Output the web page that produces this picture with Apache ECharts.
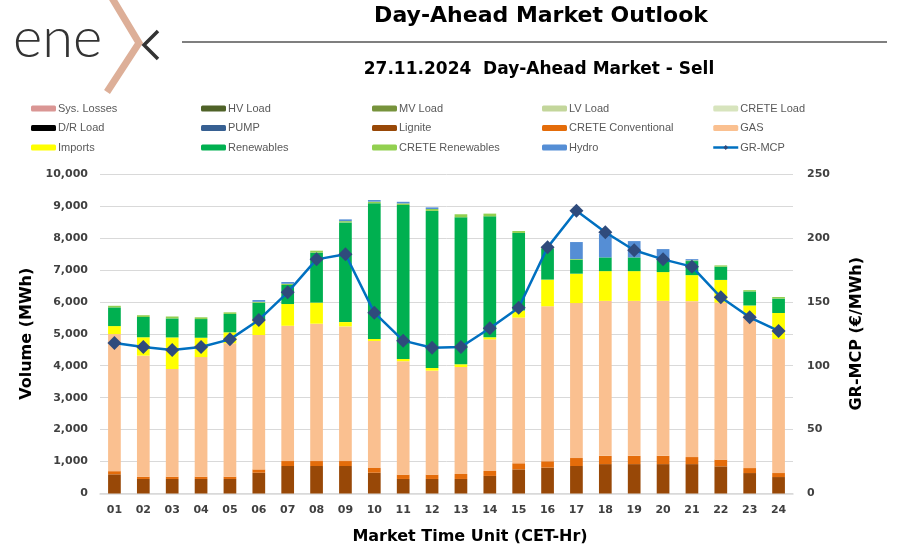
<!DOCTYPE html>
<html>
<head>
<meta charset="utf-8">
<script src="https://cdn.jsdelivr.net/npm/echarts@6/dist/echarts.min.js"></script>
<style>
html,body{margin:0;padding:0;background:#fff;}
#c{width:910px;height:557px;}
</style>
</head>
<body>
<div id="c"></div>
<script>
const categories = ['01','02','03','04','05','06','07','08','09','10','11','12','13','14','15','16','17','18','19','20','21','22','23','24'];
const volumeTicks = [0,1000,2000,3000,4000,5000,6000,7000,8000,9000,10000];
const priceTicks = [0,50,100,150,200,250];

const lignite    = [600,455,455,455,455,650,860,860,860,650,455,455,455,550,755,810,860,920,920,920,920,850,640,515];
const creteConv  = [100,70,70,70,70,105,155,155,155,150,135,135,155,155,190,200,250,260,260,260,220,210,155,125];
const gas        = [4290,3790,3370,3745,4175,4205,4235,4300,4215,3975,3550,3255,3350,4120,4560,4850,4850,4850,4850,4850,4880,4915,4800,4195];
const imports    = [250,575,990,605,345,500,680,660,135,60,70,85,85,65,220,835,920,930,930,900,815,710,290,815];
const renewables = [585,635,595,585,575,510,595,1565,3120,4250,4820,4915,4600,3785,2430,980,440,430,430,395,440,415,440,450];
const creteRen   = [50,55,60,55,50,30,40,60,40,50,50,60,95,85,60,30,20,0,0,0,20,40,40,50];
const hydro      = [0,0,0,0,0,55,55,0,55,50,50,50,0,0,0,0,530,730,510,325,40,0,0,0];
const grMcp      = [117.8,114.6,112.3,114.6,120.6,135.8,157.4,183.2,187.2,141.5,119.6,114.1,114.6,129.3,145.4,192.6,221.3,204.4,190.3,183.2,177.5,153.5,137.9,127.2];

const emptyNames = ['Sys. Losses','HV Load','MV Load','LV Load','CRETE Load','D/R Load','PUMP'];
const colors = {
  'Sys. Losses':'#DA9694','HV Load':'#4F6228','MV Load':'#77933C','LV Load':'#C3D69B','CRETE Load':'#D7E4BD',
  'D/R Load':'#000000','PUMP':'#376092','Lignite':'#984807','CRETE Conventional':'#E46C0A','GAS':'#FAC090',
  'Imports':'#FFFF00','Renewables':'#00B050','CRETE Renewables':'#92D050','Hydro':'#558ED5'
};
const legendCols = [
  ['Sys. Losses','D/R Load','Imports'],
  ['HV Load','PUMP','Renewables'],
  ['MV Load','Lignite','CRETE Renewables'],
  ['LV Load','CRETE Conventional','Hydro'],
  ['CRETE Load','GAS','GR-MCP']
];
const legendLefts = [31,201,372,542,712];

const FONT = "'Liberation Sans', Arial, sans-serif";
const BFONT = "'DejaVu Sans', sans-serif";
const LABEL = {color:'#404040', fontSize:11, fontWeight:'bold', fontFamily:BFONT};

function bar(name, data){
  return {name, type:'bar', stack:'v', data, barWidth:'44%',
    itemStyle:{color:colors[name]}, emphasis:{disabled:true}};
}
const series = [];
emptyNames.forEach(n => series.push(bar(n, [])));
series.push(bar('Lignite', lignite));
series.push(bar('CRETE Conventional', creteConv));
series.push(bar('GAS', gas));
series.push(bar('Imports', imports));
series.push(bar('Renewables', renewables));
series.push(bar('CRETE Renewables', creteRen));
series.push(bar('Hydro', hydro));
series.push({name:'GR-MCP', type:'line', yAxisIndex:1, data:grMcp, z:10,
  symbol:'diamond', symbolSize:14,
  lineStyle:{color:'#0070C0', width:2.5},
  itemStyle:{color:'#2F4B7C', borderWidth:0},
  emphasis:{disabled:true}});

const legends = legendCols.map((col,i)=>({
  data: col.map(n => n === 'GR-MCP' ? {name:n, itemStyle:{color:'#2F4B7C'}, lineStyle:{color:'#0070C0', width:2.5}} : {name:n}),
  orient:'vertical', left:legendLefts[i], top:101.5, padding:0,
  itemWidth:25, itemHeight:6, itemGap:5.5, selectedMode:false,
  textStyle:{color:'#595959', fontSize:11, fontFamily:FONT, lineHeight:14, padding:[0,0,0,-3]}
}));

const chart = echarts.init(document.getElementById('c'), null, {renderer:'canvas'});
chart.setOption({
  animation:false,
  backgroundColor:'#fff',
  title:[
    {text:'Day-Ahead Market Outlook', left:536, top:0, textAlign:'center',
      textStyle:{fontSize:22, fontWeight:'bold', color:'#000', fontFamily:BFONT}},
    {text:'27.11.2024  Day-Ahead Market - Sell', left:534, top:56, textAlign:'center',
      textStyle:{fontSize:17, fontWeight:'bold', color:'#000', fontFamily:BFONT}}
  ],
  legend: legends,
  grid:{left:100, right:117, top:174, bottom:63.5, containLabel:false},
  xAxis:{type:'category', data:categories,
    axisLine:{lineStyle:{color:'#D9D9D9', width:1.5}}, axisTick:{show:false},
    axisLabel:Object.assign({margin:11}, LABEL)},
  yAxis:[
    {type:'value', min:volumeTicks[0], max:volumeTicks[volumeTicks.length-1], interval:1000,
      name:'Volume (MWh)', nameLocation:'middle', nameRotate:90, nameGap:64,
      nameTextStyle:{fontSize:16, fontWeight:'bold', color:'#000', fontFamily:BFONT},
      axisLabel:Object.assign({margin:12, formatter:v=>v.toLocaleString('en-US')}, LABEL),
      axisLine:{show:false}, axisTick:{show:false},
      splitLine:{lineStyle:{color:'#D9D9D9', width:1}}},
    {type:'value', min:priceTicks[0], max:priceTicks[priceTicks.length-1], interval:50,
      name:'GR-MCP (€/MWh)', nameLocation:'middle', nameRotate:90, nameGap:56,
      nameTextStyle:{fontSize:16, fontWeight:'bold', color:'#000', fontFamily:BFONT},
      axisLabel:Object.assign({margin:14}, LABEL),
      axisLine:{show:false}, axisTick:{show:false}, splitLine:{show:false}}
  ],
  graphic:[
    {type:'line', shape:{x1:182, y1:42, x2:887, y2:42}, style:{stroke:'#000', lineWidth:1.2}},
    {type:'text', style:{text:'Market Time Unit (CET-Hr)', x:470, y:537, textAlign:'center', textVerticalAlign:'middle',
      font:"bold 16px 'DejaVu Sans', sans-serif", fill:'#000'}},
    {type:'text', style:{text:'ene', x:13, y:67, textVerticalAlign:'bottom', textAlign:'left',
      font:"300 56px Lato, 'Noto Sans', sans-serif", fill:'#333'}},
    {type:'polyline', shape:{points:[[112,-2],[139,43],[107,92]]}, style:{stroke:'#DDAF98', lineWidth:7, fill:null}},
    {type:'polyline', shape:{points:[[158,31],[144,45],[158,59]]}, style:{stroke:'#333', lineWidth:3.5, fill:null}}
  ],
  series
});
</script>
</body>
</html>
